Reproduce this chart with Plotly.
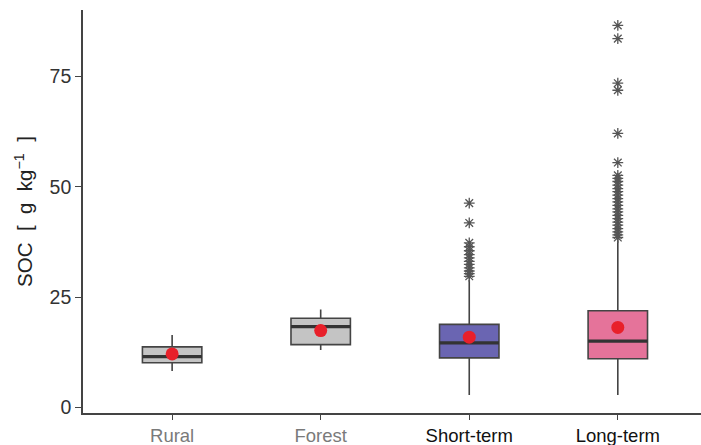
import plotly.graph_objects as go

categories = ["Rural", "Forest", "Short-term", "Long-term"]
label_colors = ["#7a7a7a", "#7a7a7a", "#111111", "#111111"]
q1 = [10.1, 14.2, 11.2, 11.0]
median = [11.5, 18.3, 14.6, 15.0]
q3 = [13.7, 20.2, 18.8, 21.9]
lower_whisker = [8.2, 13.0, 2.8, 2.8]
upper_whisker = [16.4, 22.2, 28.9, 37.9]
means = [12.1, 17.4, 15.9, 18.1]
fills = ["#c4c4c4", "#c4c4c4", "#6a65b2", "#e5739a"]
outliers_short = [46.3, 41.8, 37.3, 36.4, 35.5, 34.6, 33.9, 33.1, 32.4, 31.6, 30.9, 30.3, 29.7]
outliers_long = [86.6, 83.6, 73.5, 71.9, 62.1, 55.5, 52.6, 51.9, 51.2, 50.4, 49.6, 48.9,
                 48.1, 47.3, 46.6, 45.8, 45.0, 44.3, 43.5, 42.8, 42.0, 41.3, 40.5, 39.8,
                 39.1, 38.5]
y_ticks = [0, 25, 50, 75]

BOX_W = 0.4
pos = list(range(len(categories)))

fig = go.Figure()
for i in pos:
    fig.add_trace(go.Box(
        x=[i], q1=[q1[i]], median=[median[i]], q3=[q3[i]],
        lowerfence=[lower_whisker[i]], upperfence=[upper_whisker[i]],
        width=BOX_W, whiskerwidth=0, fillcolor=fills[i],
        line=dict(color="#444444", width=1.6), boxpoints=False,
        showlegend=False, hoverinfo="skip"))
    fig.add_trace(go.Scatter(
        x=[i - BOX_W / 2, i + BOX_W / 2], y=[median[i], median[i]], mode="lines",
        line=dict(color="#333333", width=3.2), showlegend=False, hoverinfo="skip"))

for i, outs in [(2, outliers_short), (3, outliers_long)]:
    fig.add_trace(go.Scatter(
        x=[i] * len(outs), y=outs, mode="markers",
        marker=dict(symbol="asterisk-open", size=9, color="#555555",
                    line=dict(color="#555555", width=1.3)),
        showlegend=False, hoverinfo="skip"))

fig.add_trace(go.Scatter(
    x=pos, y=means, mode="markers",
    marker=dict(symbol="circle", size=13, color="#e8202a"),
    showlegend=False, hoverinfo="skip"))

ticktext = [f'<span style="color:{c}">{t}</span>' for t, c in zip(categories, label_colors)]

fig.update_layout(
    width=701, height=445,
    margin=dict(l=83, r=0, t=10, b=32),
    plot_bgcolor="white", paper_bgcolor="white",
    font=dict(family="Liberation Sans, Arial, sans-serif", color="#222222"),
    xaxis=dict(
        range=[-0.6, 3.56], tickmode="array", tickvals=pos, ticktext=ticktext,
        showgrid=False, zeroline=False, showline=True, linecolor="#444444", linewidth=1.6,
        ticks="outside", ticklen=5, tickwidth=1.4, tickcolor="#444444",
        tickfont=dict(size=18.5), automargin=False, fixedrange=True),
    yaxis=dict(
        range=[-1.3, 90.1], tickmode="array", tickvals=y_ticks,
        showgrid=False, zeroline=False, showline=True, linecolor="#444444", linewidth=1.6,
        ticks="outside", ticklen=6, tickwidth=1.4, tickcolor="#444444",
        tickfont=dict(size=19.5, color="#333333"), automargin=False,
        title=dict(text="SOC  [  g  kg<sup>−1</sup>  ]", font=dict(size=20.5, color="#222222"),
                   standoff=11)),
)

fig.write_html("out.html", config={"displayModeBar": False},
               post_script="document.body.style.margin='0';")
